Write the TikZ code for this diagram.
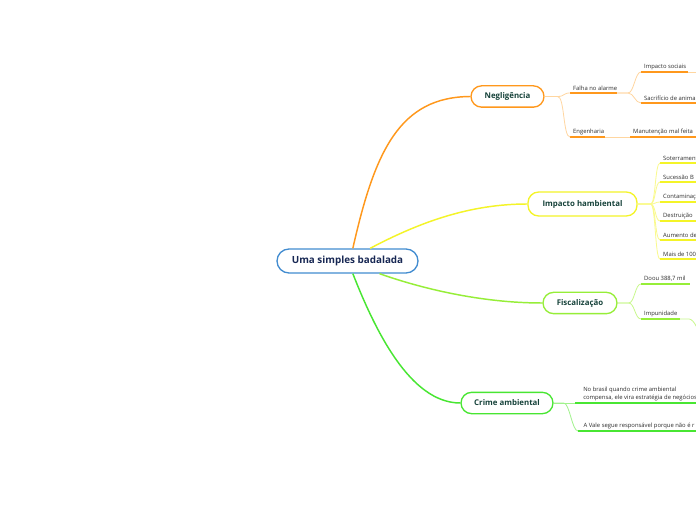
\documentclass[tikz,border=0pt]{standalone}
\usepackage{fontspec}
\setmainfont{Open Sans}
\usetikzlibrary{positioning}
\definecolor{skyline}{RGB}{66,140,208}
\definecolor{navy}{RGB}{24,40,84}
\definecolor{pine}{RGB}{22,66,58}
\definecolor{ink}{RGB}{45,45,45}
\definecolor{amber}{RGB}{255,152,28}
\definecolor{amberlight}{RGB}{255,214,160}
\definecolor{lemon}{RGB}{244,244,40}
\definecolor{lemonlight}{RGB}{250,250,140}
\definecolor{lime}{RGB}{150,238,56}
\definecolor{limelight}{RGB}{200,248,140}
\definecolor{leaf}{RGB}{72,230,50}
\definecolor{leaflight}{RGB}{160,242,140}
\tikzset{
  root/.style={draw=skyline,line width=1pt,rounded corners=9pt,fill=white,
    minimum width=105.75pt,minimum height=18pt,font=\fontsize{7.4}{8}\selectfont\bfseries,text=navy},
  topic/.style={draw=#1,line width=1pt,rounded corners=8pt,fill=white,
    minimum height=16pt,font=\fontsize{5.9}{7}\selectfont\bfseries,text=pine},
  twig text/.style={anchor=south west,inner xsep=2.2pt,inner ysep=1.7pt,align=left,
    font=\fontsize{4.4}{5.4}\selectfont,text=ink},
  branch/.style={line width=1.1pt,draw=#1},
  twig/.style={line width=0.6pt,draw=#1},
  uline/.style={line width=1.5pt,draw=#1},
}
\begin{document}
\begin{tikzpicture}[x=0.75pt,y=-0.75pt]
  \clip (0,0) rectangle (696,520);
  \fill[white] (0,0) rectangle (696,520);

  % main topics
  \node[root] (root) at (347.5,261) {Uma simples badalada};
  \node[topic=amber,minimum width=54.75pt] (neg) at (507.5,96.5) {Negligência};
  \node[topic=lemon,minimum width=81.75pt,minimum height=18pt] (imp) at (582.5,204) {Impacto hambiental};
  \node[topic=lime,minimum width=55.5pt] (fis) at (580,303) {Fiscalização};
  \node[topic=leaf,minimum width=69pt] (cri) at (507,403) {Crime ambiental};

  \draw[branch=amber] ([xshift=4pt]root.north) .. controls (375,150) and (400,97) .. (neg.west);
  \draw[branch=lemon] ([xshift=17pt]root.north) .. controls (420,222) and (470,204) .. (imp.west);
  \draw[branch=lime] ([xshift=24pt]root.south) .. controls (420,288) and (480,303) .. (fis.west);
  \draw[branch=leaf] ([xshift=4pt]root.south) .. controls (375,330) and (410,403) .. (cri.west);

  % Negligencia
  \node[twig text] (falha) at (570,93) {Falha no alarme};
  \node[twig text] (eng) at (570,137) {Engenharia};
  \node[twig text] (social) at (641,72) {Impacto sociais};
  \node[twig text] (sacr) at (641,103) {Sacrifício de animais};
  \node[twig text] (manut) at (630,137) {Manutenção mal feita};
  \foreach \nm/\len in {falha/47,eng/35,social/47,sacr/70,manut/70}
    \draw[uline=amber] (\nm.south west) -- ++(\len,0) coordinate (\nm-end);
  \coordinate (social-next) at (710,72);
  \draw[twig=amberlight] (neg.east) -- ++(13,0) .. controls +(7,0) and +(-7,0) .. (falha.south west);
  \draw[twig=amberlight] (neg.east) -- ++(13,0) .. controls +(7,0) and +(-7,0) .. (eng.south west);
  \draw[twig=amberlight] (falha-end) -- ++(11,0) .. controls +(6,0) and +(-6,0) .. (social.south west);
  \draw[twig=amberlight] (falha-end) -- ++(11,0) .. controls +(6,0) and +(-6,0) .. (sacr.south west);
  \draw[twig=amberlight] (eng-end) -- (manut.south west);
  \draw[twig=amberlight] (social-end) -- (social-next);

  % Impacto hambiental
  \foreach \nm/\yy/\txt in {soter/163/Soterramento,suces/182/Sucessão B,conta/202/Contaminação,
      destr/221/Destruição,aumen/240/Aumento de,mais/259/Mais de 100}{
    \node[twig text] (\nm) at (660,\yy) {\txt};
    \draw[twig=lemonlight] (imp.east) -- ++(13,0) .. controls +(5,0) and +(-5,0) .. (\nm.south west);
    \draw[uline=lemon] (\nm.south west) -- ++(50,0);
  }

  % Fiscalizacao
  \node[twig text] (doou) at (641,284) {Doou 388,7 mil};
  \node[twig text] (impun) at (641,319) {Impunidade};
  \foreach \nm/\len in {doou/49,impun/39}
    \draw[uline=lime] (\nm.south west) -- ++(\len,0) coordinate (\nm-end);
  \coordinate (impun-next) at (700,340);
  \draw[twig=limelight] (fis.east) -- ++(11,0) .. controls +(6,0) and +(-6,0) .. (doou.south west);
  \draw[twig=limelight] (fis.east) -- ++(11,0) .. controls +(6,0) and +(-6,0) .. (impun.south west);
  \draw[twig=limelight] (impun-end) -- ++(9,0) .. controls +(5,0) and +(0,-8) .. (impun-next);

  % Crime ambiental
  \node[twig text,inner xsep=0pt,xshift=6pt] (brasil) at (575,403) {No brasil quando crime ambiental\\compensa, ele vira estratégia de negócios};
  \node[twig text,inner xsep=0pt,xshift=4pt] (vale) at (578,431) {A Vale segue responsável porque não é r};
  \coordinate (brasil-start) at (575,403);
  \coordinate (vale-start) at (578,431);
  \draw[uline=leaf] (brasil-start) -- ++(140,0);
  \draw[uline=leaf] (vale-start) -- ++(140,0);
  \draw[twig=leaflight] (cri.east) -- (brasil-start);
  \draw[twig=leaflight] (cri.east) -- ++(10,0) .. controls +(6,0) and +(-6,0) .. (vale-start);
\end{tikzpicture}
\end{document}
